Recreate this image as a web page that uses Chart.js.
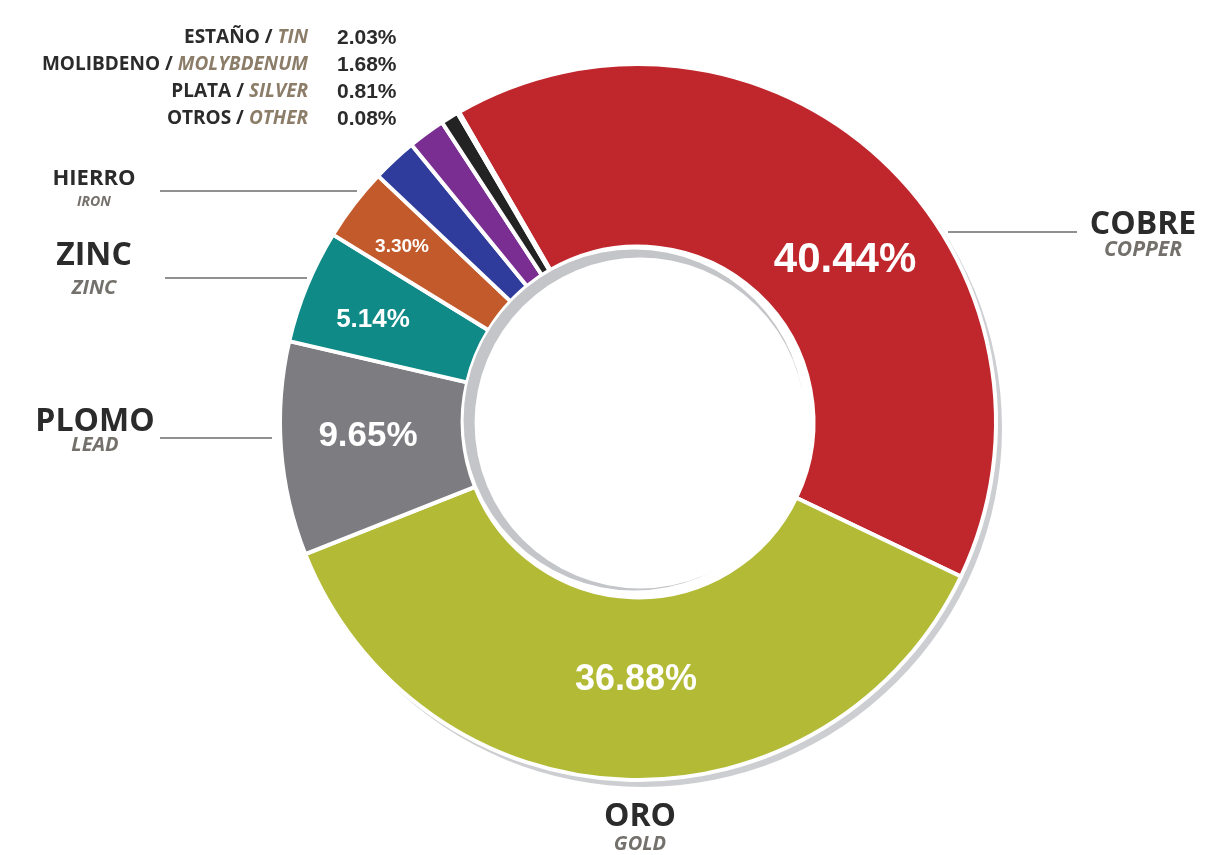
<!DOCTYPE html>
<html>
<head>
<meta charset="utf-8">
<script src="https://cdn.jsdelivr.net/npm/chart.js@4/dist/chart.umd.min.js"></script>
<style>
  body { margin: 0; background: #fff; }
  #wrap { width: 1210px; height: 855px; position: relative; }
</style>
</head>
<body>
<div id="wrap"><canvas id="graph-mining"></canvas></div>
<script>
// production share by metal, clockwise from the top
const metalsEs = ["COBRE", "ORO", "PLOMO", "ZINC", "HIERRO", "ESTAÑO", "MOLIBDENO", "PLATA", "OTROS"];
const metalsEn = ["COPPER", "GOLD", "LEAD", "ZINC", "IRON", "TIN", "MOLYBDENUM", "SILVER", "OTHER"];
const shares = [40.44, 36.88, 9.65, 5.14, 3.30, 2.03, 1.68, 0.81, 0.08];
const colors = ["#c0272d", "#b3bb36", "#7c7c81", "#0f8a86", "#c35a2b", "#2f3c9c", "#7a2e92", "#232323", "#9a9a9a"];

// white value text inside the big slices: index, offset from centre, font size
const insideLabels = [
  { i: 0, dx: 207, dy: -162, size: 42 },
  { i: 1, dx: -2, dy: 258, size: 36 },
  { i: 2, dx: -270, dy: 14, size: 35 },
  { i: 3, dx: -265, dy: -102, size: 26 },
  { i: 4, dx: -236, dy: -175, size: 19 },
];
// names with a leader line
const sideLabels = [
  { i: 0, x: 1143, y: 225, size: 32, subY: 250, sub: 21, line: [948, 232, 1077, 232] },
  { i: 1, x: 640, y: 817, size: 32, subY: 844, sub: 20 },
  { i: 2, x: 95, y: 422, size: 32, subY: 445, sub: 20, line: [160, 438, 272, 438] },
  { i: 3, x: 94, y: 256, size: 32, subY: 288, sub: 20, line: [165, 278, 307, 278] },
  { i: 4, x: 94, y: 179, size: 22, subY: 202, sub: 14, line: [160, 191, 357, 191] },
];
const smallList = [5, 6, 7, 8];

const decor = {
  id: "decor",
  beforeDatasetsDraw(chart) {
    const arc = chart.getDatasetMeta(0).data[0];
    const ctx = chart.ctx;
    ctx.save();
    // soft grey rim down-right of the ring
    ctx.fillStyle = "#cdced2";
    ctx.beginPath();
    ctx.arc(arc.x + 5, arc.y + 6, arc.outerRadius + 1, 0, Math.PI * 2);
    ctx.fill();
    ctx.fillStyle = "#fff";
    ctx.beginPath();
    ctx.arc(arc.x, arc.y, arc.outerRadius + 1, 0, Math.PI * 2);
    ctx.fill();
    ctx.restore();
  },
  afterDatasetsDraw(chart) {
    const arc = chart.getDatasetMeta(0).data[0];
    const ctx = chart.ctx;
    const cx = arc.x, cy = arc.y, r = arc.innerRadius;
    ctx.save();
    // inner shadow on the hole
    ctx.fillStyle = "#c3c5c8";
    ctx.beginPath();
    ctx.arc(cx - 4, cy - 2, r - 5, 0, Math.PI * 2);
    ctx.fill();
    ctx.fillStyle = "#fff";
    ctx.beginPath();
    ctx.arc(cx + 2, cy + 1, r - 10, 0, Math.PI * 2);
    ctx.fill();

    // values inside the slices
    ctx.fillStyle = "#fff";
    ctx.textAlign = "center";
    ctx.textBaseline = "middle";
    insideLabels.forEach((l) => {
      ctx.font = `bold ${l.size}px "Liberation Sans", Arial, sans-serif`;
      ctx.fillText(shares[l.i].toFixed(2) + "%", cx + l.dx, cy + l.dy);
    });

    // outer names
    sideLabels.forEach((l) => {
      if (l.line) {
        ctx.strokeStyle = "#6b6b6b";
        ctx.lineWidth = 1.5;
        ctx.beginPath();
        ctx.moveTo(l.line[0], l.line[1]);
        ctx.lineTo(l.line[2], l.line[3]);
        ctx.stroke();
      }
      ctx.fillStyle = "#2b2b2b";
      ctx.font = `bold ${l.size}px "Open Sans", sans-serif`;
      ctx.fillText(metalsEs[l.i], l.x, l.y);
      ctx.fillStyle = "#74716c";
      ctx.font = `italic bold ${l.sub}px "Open Sans", sans-serif`;
      ctx.fillText(metalsEn[l.i], l.x, l.subY);
    });

    // small metals listed top-left
    smallList.forEach((idx, k) => {
      const y = 38 + k * 27;
      ctx.textAlign = "right";
      ctx.font = `italic bold 19px "Open Sans", sans-serif`;
      const en = metalsEn[idx];
      const enW = ctx.measureText(en).width;
      ctx.fillStyle = "#8c7d69";
      ctx.fillText(en, 308, y);
      ctx.font = `bold 19px "Open Sans", sans-serif`;
      ctx.fillStyle = "#2b2b2b";
      ctx.fillText(metalsEs[idx] + " / ", 308 - enW, y);
      ctx.textAlign = "left";
      ctx.font = `bold 21px "Liberation Sans", Arial, sans-serif`;
      ctx.fillText(shares[idx].toFixed(2) + "%", 337, y);
    });
    ctx.restore();
  },
};

new Chart(document.getElementById("graph-mining"), {
  type: "doughnut",
  data: {
    labels: metalsEs,
    datasets: [
      {
        data: shares,
        backgroundColor: colors,
        borderColor: "#fff",
        borderWidth: 4,
      },
    ],
  },
  options: {
    responsive: true,
    maintainAspectRatio: false,
    animation: false,
    rotation: -30,
    cutout: "49%",
    layout: { padding: { top: 62, bottom: 73, left: 278, right: 212 } },
    plugins: {
      legend: { display: false },
      tooltip: { enabled: false },
    },
  },
  plugins: [decor],
});
</script>
</body>
</html>
